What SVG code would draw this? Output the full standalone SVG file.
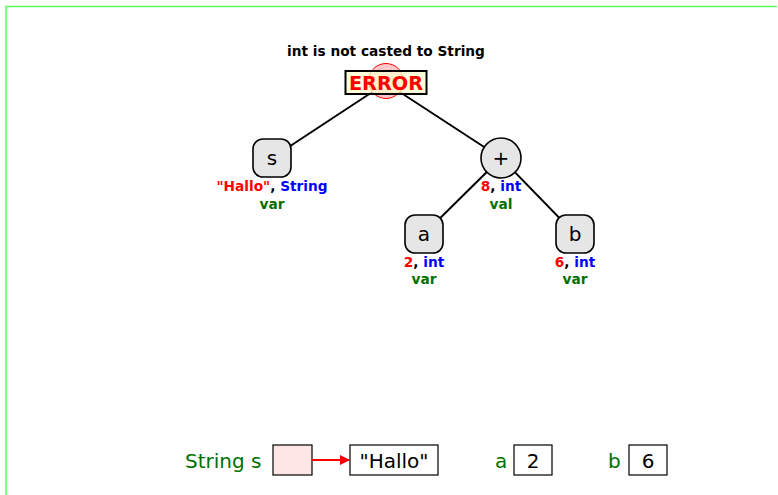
<svg xmlns="http://www.w3.org/2000/svg" width="778" height="495" viewBox="0 0 778 495">
<defs>
<style>
text{font-family:"DejaVu Sans","Liberation Sans",sans-serif}
.lbl{font-size:13.7px;font-weight:bold;text-anchor:middle}
.nd{fill:#e6e6e6;stroke:#000;stroke-width:1.6}
.nt{font-size:20px;text-anchor:middle}
.r{fill:#ff0000}.b{fill:#0000ff}.g{fill:#007000}
.edge{stroke:#000;stroke-width:2;fill:none}
.box{fill:#fff;stroke:#000;stroke-width:1.2}
.gt{font-size:20px;fill:#007000}
</style>
<marker id="arr" markerWidth="10" markerHeight="10" refX="9" refY="5" orient="auto" markerUnits="userSpaceOnUse">
<path d="M0,0 L10,5 L0,10 Z" fill="#ff0000"/>
</marker>
</defs>
<rect width="778" height="495" fill="#fff"/>
<path d="M6,496 V6.5 H777" fill="none" stroke="#55ff55" stroke-width="1.5"/>
<g id="connectors">
<line class="edge" x1="386" y1="83" x2="272" y2="158"/>
<line class="edge" x1="386" y1="83" x2="501" y2="158"/>
<line class="edge" x1="501" y1="158" x2="424" y2="234"/>
<line class="edge" x1="501" y1="158" x2="575" y2="234"/>
</g>
<g id="error">
<text x="386" y="56" class="lbl" fill="#000">int is not casted to String</text>
<circle cx="386" cy="81" r="17.5" fill="#ffc8c8" stroke="#ff0000" stroke-width="1"/>
<rect x="345.5" y="71" width="81" height="23" fill="#ffffcc" fill-opacity="0.75" stroke="#000" stroke-width="2"/>
<text x="386" y="90" font-size="19.3" font-weight="bold" text-anchor="middle" fill="#ff0000">ERROR</text>
</g>
<g id="node-s">
<rect class="nd" x="253" y="139" width="38" height="38" rx="10"/>
<text x="272" y="165" class="nt">s</text>
<text x="272" y="191" class="lbl"><tspan class="r">"Hallo"</tspan>, <tspan class="b">String</tspan></text>
<text x="272" y="209" class="lbl g">var</text>
</g>
<g id="node-plus">
<circle class="nd" cx="501" cy="158" r="20"/>
<text x="501" y="165" class="nt">+</text>
<text x="501" y="191" class="lbl"><tspan class="r">8</tspan>, <tspan class="b">int</tspan></text>
<text x="501" y="209" class="lbl g">val</text>
</g>
<g id="node-a">
<rect class="nd" x="405" y="215" width="38" height="38" rx="10"/>
<text x="424" y="241" class="nt">a</text>
<text x="424" y="267" class="lbl"><tspan class="r">2</tspan>, <tspan class="b">int</tspan></text>
<text x="424" y="284" class="lbl g">var</text>
</g>
<g id="node-b">
<rect class="nd" x="556" y="215" width="38" height="38" rx="10"/>
<text x="575" y="241" class="nt">b</text>
<text x="575" y="267" class="lbl"><tspan class="r">6</tspan>, <tspan class="b">int</tspan></text>
<text x="575" y="284" class="lbl g">var</text>
</g>
<g id="memory">
<text x="185" y="468" class="gt">String s</text>
<rect x="273" y="445" width="39" height="30" fill="#ffe6e6" stroke="#000" stroke-width="1.2"/>
<line x1="312" y1="460" x2="349" y2="460" stroke="#ff0000" stroke-width="2" marker-end="url(#arr)"/>
<rect class="box" x="350" y="445" width="88" height="30"/>
<text x="394" y="468" font-size="20" text-anchor="middle">"Hallo"</text>
<text x="495" y="468" class="gt">a</text>
<rect class="box" x="514" y="445" width="38" height="30"/>
<text x="533" y="468" font-size="20" text-anchor="middle">2</text>
<text x="608" y="468" class="gt">b</text>
<rect class="box" x="629" y="445" width="38" height="30"/>
<text x="648" y="468" font-size="20" text-anchor="middle">6</text>
</g>
</svg>
